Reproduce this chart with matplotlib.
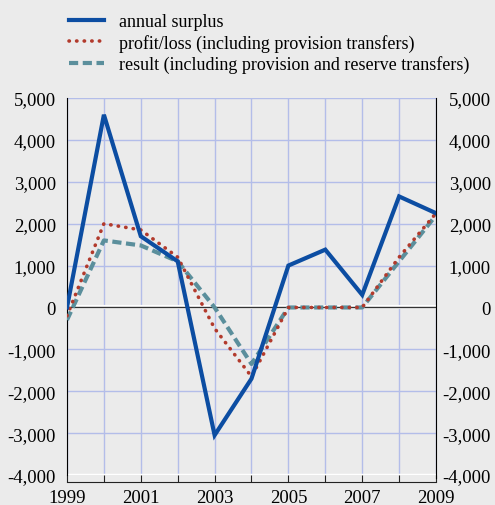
import matplotlib
matplotlib.use("Agg")
import matplotlib.pyplot as plt
from matplotlib.ticker import FuncFormatter, MultipleLocator

years = [1999, 2000, 2001, 2002, 2003, 2004, 2005, 2006, 2007, 2008, 2009]
annual_surplus = [0, 4600, 1700, 1100, -3050, -1700, 1000, 1380, 300, 2650, 2250]
profit_loss = [-200, 2000, 1850, 1200, -500, -1650, 0, 0, 0, 1200, 2250]
result = [-300, 1600, 1480, 1100, 0, -1350, 0, 0, 0, 1100, 2200]
labels = ["annual surplus",
          "profit/loss (including provision transfers)",
          "result (including provision and reserve transfers)"]

plt.rcParams['font.family'] = ['Liberation Serif', 'DejaVu Serif']
bg = '#ebebeb'
fig = plt.figure(figsize=(4.95, 5.06), dpi=100, facecolor=bg)
ax = fig.add_axes([67/495, 1-476/506, (436-67)/495, (476-99)/506])
ax.set_facecolor(bg)

ax.set_xlim(1999, 2009)
ax.set_ylim(-4000, 5000)
ax.xaxis.set_major_locator(MultipleLocator(1))
ax.yaxis.set_major_locator(MultipleLocator(1000))
ax.grid(True, color='#b3bde9', lw=1.0)
ax.set_axisbelow(True)
ax.axhline(0, color='white', lw=3, zorder=1.5)
ax.axhline(0, color='#333333', lw=1.0, zorder=1.6)
ax.axhline(-4000, color='white', lw=2.5, zorder=1.5)

l1, = ax.plot(years, annual_surplus, color='#0c4da2', lw=3.0, zorder=4,
              solid_joinstyle='miter')
l3, = ax.plot(years, result, color='#5b8f9c', lw=3.0, ls=(0, (2.2, 1.1)), zorder=3)
l2, = ax.plot(years, profit_loss, color='#b23a2c', lw=2.6, ls=(0, (0.1, 2.0)),
              dash_capstyle='round', zorder=3.5)

fmt = FuncFormatter(lambda v, p: f"{int(v):,}")
ax.yaxis.set_major_formatter(fmt)
ax.xaxis.set_major_formatter(FuncFormatter(lambda v, p: str(int(v)) if int(v) % 2 == 1 else ""))

ax.spines['top'].set_visible(False)
ax.spines['right'].set_visible(False)
ax.spines['left'].set_color('black')
ax.spines['bottom'].set_position(('outward', 5))
ax.spines['bottom'].set_color('#222222')
ax.tick_params(axis='x', direction='in', length=5, labelsize=13.5, pad=5, color='#222222')
ax.tick_params(axis='y', length=0, labelsize=13.5, pad=8)

ax2 = ax.twinx()
ax2.set_ylim(-4000, 5000)
ax2.yaxis.set_major_locator(MultipleLocator(1000))
ax2.yaxis.set_major_formatter(fmt)
ax2.tick_params(axis='y', length=0, labelsize=13.5, pad=39.5)
for t in ax2.get_yticklabels():
    t.set_horizontalalignment('right')
for s in ['top', 'left', 'bottom']:
    ax2.spines[s].set_visible(False)
ax2.spines['right'].set_color('black')
ax2.spines['right'].set_bounds(-4080, 5000)

fig.legend([l1, l2, l3], labels, loc='upper left', bbox_to_anchor=(62/495, 1-7/506),
           frameon=False, fontsize=13, handlelength=1.9, handletextpad=0.85,
           labelspacing=0.2, borderaxespad=0)

fig.savefig("out.png", dpi=100, facecolor=bg)
